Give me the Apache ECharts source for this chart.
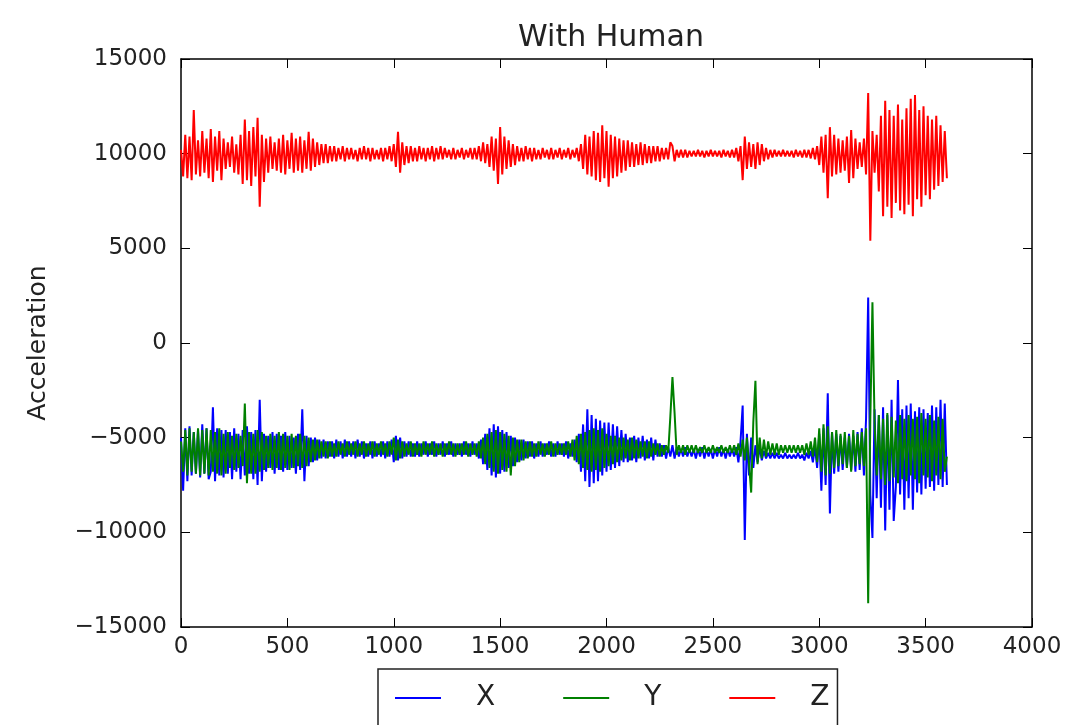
<!DOCTYPE html>
<html>
<head>
<meta charset="utf-8">
<script src="https://cdn.jsdelivr.net/npm/echarts@6/dist/echarts.min.js"></script>
<style>
  html, body { margin: 0; background: #fff; }
  #chart { width: 1068px; height: 725px; }
</style>
</head>
<body>
<div id="chart"></div>
<script>
  // one value every 10 samples (peaks and troughs)
  var sampleStep = 10;
  var seriesNames = ['X', 'Y', 'Z'];
  var xTicks = [0, 500, 1000, 1500, 2000, 2500, 3000, 3500, 4000];
  var yTicks = [-15000, -10000, -5000, 0, 5000, 10000, 15000];

  // X axis acceleration, one row = 200 samples
  var accX = [
    -5000, -7800, -4500, -7300, -4400, -7000, -4700, -6900, -4600, -7100, -4300, -6900, -4500, -7200, -6800, -3400, -7300, -4500, -7000, -4600,
    -7100, -4600, -6900, -4700, -7200, -4500, -6800, -4800, -7200, -4600, -7000, -4400, -6900, -4700, -7200, -4600, -7500, -3000, -7300, -4800,
    -6800, -4900, -6600, -4700, -6900, -4800, -6700, -4900, -6800, -4700, -6700, -4900, -6600, -5000, -6900, -4800, -6700, -3500, -7300, -4900,
    -6500, -5000, -6300, -5000, -6200, -5100, -6100, -5100, -6100, -5200, -6000, -5200, -6100, -5100, -6000, -5200, -6100, -5100, -6000, -5200,
    -6000, -5200, -6100, -5100, -6000, -5200, -6100, -5300, -6000, -5200, -6100, -5200, -6000, -5300, -6000, -5200, -6100, -5200, -6000, -5100,
    -6300, -4900, -6200, -5000, -6100, -5200, -6000, -5200, -6000, -5300, -6000, -5200, -6000, -5300, -5900, -5200, -6000, -5300, -5900, -5200,
    -6000, -5300, -5900, -5200, -6000, -5300, -5900, -5200, -6000, -5300, -5900, -5300, -6000, -5200, -5900, -5300, -6000, -5200, -5900, -5300,
    -6100, -5100, -6400, -4800, -6700, -4500, -7000, -4300, -7100, -4400, -6900, -4600, -6800, -4700, -6600, -4900, -6500, -5000, -6300, -5100,
    -6200, -5100, -6100, -5200, -6000, -5200, -6100, -5300, -6000, -5200, -6000, -5300, -5900, -5200, -6000, -5300, -6000, -5200, -5900, -5300,
    -6000, -5200, -6100, -5300, -6000, -5100, -6300, -4800, -6800, -4300, -7300, -3500, -7600, -3800, -7400, -4000, -7300, -4100, -7000, -4200,
    -6800, -4200, -6700, -4300, -6600, -4400, -6500, -4600, -6300, -4800, -6300, -5000, -6200, -4900, -6300, -5000, -6100, -4900, -6200, -5100,
    -6100, -5000, -6200, -5100, -6000, -5300, -6000, -5400, -6100, -5500, -6000, -5400, -6100, -5500, -6000, -5600, -6000, -5500, -6000, -5600,
    -6000, -5600, -6100, -5600, -6000, -5500, -6100, -5600, -6000, -5600, -6100, -5600, -6000, -5500, -6000, -5600, -6100, -5600, -6000, -5600,
    -6000, -5500, -6300, -5200, -3300, -10400, -4800, -7000, -5000, -6600, -5400, -6300, -5500, -6200, -5700, -6100, -5800, -6100, -5800, -6100,
    -5800, -6100, -5900, -6100, -5800, -6100, -5900, -6100, -5900, -6100, -5800, -6100, -5900, -6200, -5800, -6100, -5700, -6300, -5500, -6600,
    -4800, -7800, -4500, -7500, -2650, -9000, -4700, -6900, -4800, -6800, -4900, -6700, -5000, -6600, -4800, -6700, -4900, -6800, -4700, -6700,
    -4500, -7000, -4000, 2400, -8000, -10300, -3500, -8200, -3800, -8700, -3400, -9900, -3800, -8800, -3000, -9400, -7600, -1950, -8000, -3500,
    -8800, -3300, -8200, -3200, -8800, -3600, -7900, -3400, -8000, -3500, -7700, -3700, -7600, -3300, -7800, -3400, -7500, -3000, -7600, -3200,
    -7500
  ];

  // Y axis acceleration
  var accY = [
    -5200, -6800, -4600, -7000, -4500, -6800, -4700, -6900, -4500, -7000, -4600, -6900, -4500, -7000, -4600, -6800, -4700, -6900, -4500, -7000,
    -4800, -6900, -4700, -6600, -4900, -6700, -4800, -6600, -4900, -6500, -3200, -7400, -4700, -6900, -4800, -6900, -4600, -6800, -4700, -6700,
    -4900, -6600, -4800, -6700, -4900, -6600, -4700, -6700, -4800, -6600, -4900, -6700, -4800, -6600, -4900, -6500, -4800, -6600, -4900, -6500,
    -5000, -6300, -5100, -6200, -5100, -6100, -5200, -6000, -5200, -6100, -5200, -6000, -5300, -6000, -5200, -5900, -5300, -6000, -5200, -5900,
    -5300, -5900, -5200, -6000, -5300, -5900, -5200, -6000, -5300, -5900, -5200, -6000, -5300, -5900, -5200, -5900, -5300, -6000, -5200, -5900,
    -5000, -6200, -5100, -6100, -5200, -6000, -5300, -5900, -5200, -6000, -5300, -5900, -5300, -6000, -5200, -5900, -5300, -5900, -5200, -6000,
    -5300, -5900, -5300, -6000, -5300, -5900, -5200, -5900, -5300, -6000, -5300, -5900, -5300, -5900, -5200, -6000, -5300, -5900, -5300, -6000,
    -5200, -6100, -5000, -6400, -4800, -6600, -4700, -6800, -4600, -6900, -4700, -6700, -4800, -6800, -4900, -7000, -5000, -6500, -5100, -6300,
    -5100, -6200, -5200, -6100, -5200, -6000, -5300, -6000, -5200, -5900, -5300, -6000, -5300, -5900, -5200, -6000, -5300, -5900, -5300, -5900,
    -5300, -5900, -5200, -6000, -5100, -6200, -4900, -6400, -4800, -6600, -4700, -6700, -4600, -6800, -4500, -6700, -4600, -6800, -4500, -6600,
    -4800, -6500, -4900, -6400, -4900, -6300, -5000, -6200, -5000, -6100, -5100, -6200, -5000, -6100, -5100, -6100, -5200, -6000, -5200, -6100,
    -5200, -6000, -5300, -5900, -5300, -6000, -5400, -5900, -5400, -5800, -3900, -1800, -3700, -5900, -5400, -5800, -5400, -5900, -5400, -5800,
    -5400, -5800, -5400, -5800, -5500, -5800, -5400, -5800, -5500, -5800, -5400, -5800, -5500, -5800, -5400, -5800, -5500, -5800, -5400, -5800,
    -5400, -5900, -5300, -6000, -5100, -6200, -5000, -6400, -7900, -4200, -2000, -6400, -5000, -6100, -5100, -6000, -5200, -5900, -5300, -5900,
    -5300, -5900, -5400, -5800, -5400, -5800, -5400, -5800, -5400, -5800, -5400, -5800, -5400, -5900, -5300, -5900, -5200, -6000, -5000, -6300,
    -4500, -6800, -4300, -7000, -4400, -6900, -4700, -6600, -4600, -6500, -4800, -6400, -4700, -6600, -4900, -6800, -4600, -6500, -4800, -6400,
    -4700, -6500, -4500, -13750, -4000, 2150, -4200, -7000, -3800, -7200, -4000, -7500, -3700, -7300, -3900, -7100, -4100, -7400, -3800, -7200,
    -4000, -7300, -3800, -7000, -4000, -7200, -3900, -7400, -3700, -7000, -4000, -7100, -3800, -7300, -4100, -7000, -3900, -7200, -4000, -6800,
    -6000
  ];

  // Z axis acceleration
  var accZ = [
    10200, 8800, 11000, 8700, 10900, 8600, 12300, 8900, 10700, 8800, 11200, 9000, 10800, 8700, 11300, 8500, 10900, 9100, 11200, 8600,
    10800, 9200, 10600, 9300, 10900, 9000, 10500, 8900, 11000, 8400, 11800, 8600, 11200, 8300, 11400, 8800, 11900, 7200, 11000, 8500,
    10800, 9000, 10900, 9200, 10600, 9100, 10800, 9000, 11000, 8900, 10700, 9200, 11100, 9000, 10800, 9100, 10900, 9000, 10700, 9200,
    11150, 9100, 10800, 9300, 10600, 9400, 10500, 9500, 10500, 9500, 10400, 9600, 10400, 9600, 10300, 9700, 10400, 9600, 10300, 9700,
    10300, 9700, 10200, 9600, 10300, 9700, 10400, 9700, 10300, 9600, 10300, 9700, 10200, 9700, 10300, 9600, 10300, 9700, 10400, 9600,
    10500, 9300, 11150, 9000, 10600, 9400, 10400, 9500, 10400, 9600, 10300, 9600, 10400, 9700, 10300, 9600, 10300, 9700, 10400, 9600,
    10300, 9700, 10400, 9700, 10300, 9800, 10200, 9700, 10300, 9700, 10200, 9800, 10300, 9700, 10200, 9800, 10300, 9700, 10300, 9700,
    10400, 9600, 10600, 9500, 10500, 9300, 10900, 9100, 10800, 8400, 11400, 8900, 10900, 9200, 10700, 9300, 10500, 9400, 10400, 9600,
    10300, 9600, 10400, 9700, 10300, 9600, 10300, 9700, 10200, 9700, 10300, 9800, 10200, 9700, 10300, 9700, 10200, 9800, 10300, 9700,
    10200, 9800, 10300, 9700, 10200, 9800, 10300, 9600, 10500, 9200, 11000, 8900, 10900, 8800, 11200, 8600, 11100, 8500, 11500, 8700,
    11200, 8250, 11000, 8700, 10900, 8800, 10800, 9000, 10700, 9100, 10700, 9300, 10600, 9300, 10500, 9400, 10600, 9400, 10500, 9500,
    10400, 9500, 10400, 9600, 10400, 9600, 10300, 9700, 10300, 9700, 10600, 10400, 9600, 10200, 9800, 10200, 9800, 10200, 9800, 10150,
    9850, 10150, 9850, 10200, 9850, 10150, 9800, 10150, 9850, 10200, 9850, 10150, 9850, 10150, 9800, 10200, 9850, 10150, 9800, 10200,
    9800, 10300, 9600, 10400, 8600, 10900, 9200, 10600, 9300, 10500, 9200, 10600, 9400, 10500, 9600, 10300, 9700, 10200, 9800, 10200,
    9850, 10150, 9850, 10200, 9850, 10150, 9850, 10150, 9800, 10200, 9850, 10150, 9800, 10200, 9800, 10200, 9750, 10300, 9700, 10400,
    9400, 10900, 9000, 11000, 7650, 11400, 8800, 11000, 8900, 10800, 9000, 10700, 9100, 10900, 8450, 11250, 8700, 10800, 9200, 10600,
    9300, 10800, 8900, 13200, 5400, 11200, 9000, 11000, 8000, 12000, 6700, 12800, 7200, 12300, 6600, 12000, 7400, 12600, 7000, 11800,
    6800, 12400, 7300, 12900, 6700, 13100, 7600, 12300, 7200, 12500, 7800, 12000, 7600, 11800, 8100, 12000, 8300, 11500, 8500, 11200,
    8700
  ];

  var lineColors = ['#0000ff', '#008000', '#ff0000'];

  // 把数组转成 [sample, value]
  function toPoints(values) {
    return values.map(function (v, i) {
      return [i * sampleStep, v];
    });
  }

  // matplotlib 用的是真正的减号
  function minusSign(v) {
    return String(v).replace('-', '\u2212');
  }

  var font = 'DejaVu Sans';
  var axisColor = '#000';
  var textColor = '#222';

  var chart = echarts.init(document.getElementById('chart'), null, { renderer: 'canvas' });
  var option = {
    animation: false,
    backgroundColor: '#fff',
    color: lineColors,
    title: {
      text: 'With Human',
      left: 606,
      top: 18,
      textAlign: 'center',
      textStyle: { fontFamily: font, fontSize: 30, fontWeight: 'normal', color: textColor }
    },
    grid: { left: 181, right: 36, top: 59, bottom: 98 },
    legend: {
      data: seriesNames,
      left: 378,
      top: 669,
      padding: [15, 8, 40, 17],
      borderColor: '#222',
      borderWidth: 1.5,
      icon: 'rect',
      itemWidth: 46,
      itemHeight: 2,
      itemGap: 68,
      textStyle: { fontFamily: font, fontSize: 28, color: textColor, padding: [0, 0, 0, 30] }
    },
    xAxis: [{
      type: 'value',
      min: xTicks[0],
      max: xTicks[xTicks.length - 1],
      interval: 500,
      axisLine: { show: true, onZero: false, lineStyle: { color: axisColor, width: 1.5 } },
      axisTick: { show: true, inside: true, length: 9, lineStyle: { color: axisColor } },
      axisLabel: { margin: 9, fontFamily: font, fontSize: 23, color: textColor, formatter: function (v) { return String(v); } },
      splitLine: { show: false }
    }, {
      type: 'value',
      position: 'top',
      min: xTicks[0],
      max: xTicks[xTicks.length - 1],
      interval: 500,
      axisLine: { show: true, onZero: false, lineStyle: { color: axisColor, width: 1.5 } },
      axisTick: { show: true, inside: true, length: 9, lineStyle: { color: axisColor } },
      axisLabel: { show: false },
      splitLine: { show: false }
    }],
    yAxis: [{
      type: 'value',
      min: yTicks[0],
      max: yTicks[yTicks.length - 1],
      interval: 5000,
      name: 'Acceleration',
      nameLocation: 'middle',
      nameGap: 130,
      nameTextStyle: { fontFamily: font, fontSize: 25, color: textColor },
      axisLine: { show: true, onZero: false, lineStyle: { color: axisColor, width: 1.5 } },
      axisTick: { show: true, inside: true, length: 9, lineStyle: { color: axisColor } },
      axisLabel: { margin: 14, fontFamily: font, fontSize: 23, color: textColor, formatter: minusSign },
      splitLine: { show: false }
    }, {
      type: 'value',
      position: 'right',
      min: yTicks[0],
      max: yTicks[yTicks.length - 1],
      interval: 5000,
      axisLine: { show: true, onZero: false, lineStyle: { color: axisColor, width: 1.5 } },
      axisTick: { show: true, inside: true, length: 9, lineStyle: { color: axisColor } },
      axisLabel: { show: false },
      splitLine: { show: false }
    }],
    series: [accX, accY, accZ].map(function (values, k) {
      return {
        name: seriesNames[k],
        type: 'line',
        data: toPoints(values),
        showSymbol: false,
        symbol: 'none',
        lineStyle: { width: 2, color: lineColors[k] },
        z: 2 + k
      };
    })
  };
  chart.setOption(option);
</script>
</body>
</html>
